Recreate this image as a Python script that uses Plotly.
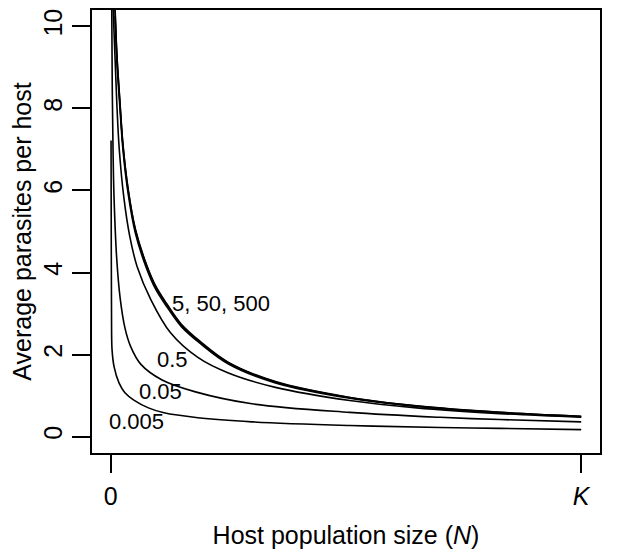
import plotly.graph_objects as go

# Host population size as fraction of K, and average parasites per host
n_500 = [0.009, 0.013, 0.019, 0.026, 0.037, 0.052, 0.075, 0.095, 0.120, 0.150, 0.190, 0.250, 0.350, 0.508, 0.650, 0.827, 1.000]
y_500 = [10.45, 9.3, 8.23, 7.1, 6.02, 5.07, 4.22, 3.68, 3.22, 2.74, 2.32, 1.81, 1.34, 0.955, 0.75, 0.593, 0.493]
n_50 = [0.009, 0.013, 0.019, 0.026, 0.037, 0.052, 0.075, 0.095, 0.120, 0.150, 0.190, 0.250, 0.350, 0.508, 0.650, 0.827, 1.000]
y_50 = [10.4, 9.26, 8.2, 7.08, 6.0, 5.05, 4.2, 3.66, 3.2, 2.72, 2.30, 1.80, 1.33, 0.95, 0.747, 0.59, 0.49]
n_5 = [0.009, 0.013, 0.019, 0.026, 0.037, 0.052, 0.075, 0.095, 0.120, 0.150, 0.190, 0.250, 0.350, 0.508, 0.650, 0.827, 1.000]
y_5 = [10.25, 9.12, 8.08, 6.97, 5.91, 4.97, 4.13, 3.60, 3.15, 2.68, 2.27, 1.77, 1.31, 0.935, 0.735, 0.58, 0.482]
n_05 = [0.005, 0.0125, 0.018, 0.028, 0.040, 0.056, 0.085, 0.127, 0.185, 0.250, 0.350, 0.508, 0.650, 0.827, 1.000]
y_05 = [10.4, 8.2, 7.0, 5.8, 4.9, 4.14, 3.34, 2.53, 1.93, 1.55, 1.20, 0.88, 0.70, 0.56, 0.47]
n_005 = [0.002, 0.003, 0.0047, 0.0068, 0.0125, 0.0196, 0.030, 0.042, 0.064, 0.109, 0.180, 0.300, 0.508, 0.700, 0.827, 1.000]
y_005 = [10.4, 8.6, 7.0, 5.85, 4.35, 3.40, 2.65, 2.20, 1.76, 1.38, 1.09, 0.80, 0.59, 0.47, 0.415, 0.36]
n_0005 = [0.0005, 0.001, 0.0015, 0.0026, 0.007, 0.0174, 0.030, 0.049, 0.080, 0.113, 0.185, 0.300, 0.508, 0.700, 0.827, 1.000]
y_0005 = [7.22, 4.5, 3.0, 2.12, 1.70, 1.31, 1.07, 0.89, 0.70, 0.58, 0.46, 0.36, 0.27, 0.22, 0.20, 0.17]

label_text = ["5, 50, 500", "0.5", "0.05", "0.005"]
label_n = [0.234, 0.132, 0.105, 0.054]
label_y = [3.24, 1.89, 1.11, 0.38]

x_tickvals = [0, 1]
x_ticktext = ["0", "<i>K</i>"]
y_tickvals = [0, 2, 4, 6, 8, 10]

FONT = "Liberation Sans, Arial, sans-serif"

fig = go.Figure()
for xs, ys in [(n_500, y_500), (n_50, y_50), (n_5, y_5), (n_05, y_05), (n_005, y_005), (n_0005, y_0005)]:
    fig.add_trace(go.Scatter(x=xs, y=ys, mode="lines",
                             line=dict(color="black", width=1.6, shape="spline", smoothing=1.0),
                             showlegend=False, hoverinfo="skip", cliponaxis=True))

for t, xv, yv in zip(label_text, label_n, label_y):
    fig.add_annotation(x=xv, y=yv, text=t, showarrow=False, xanchor="center", yanchor="middle",
                       font=dict(family=FONT, size=22, color="black"))

# the page body has an 8px default margin, so the figure is sized/offset to compensate
fig.update_layout(
    width=609, height=541,
    margin=dict(l=84, r=17, t=2, b=96, autoexpand=False),
    plot_bgcolor="white", paper_bgcolor="white",
    font=dict(family=FONT, size=25, color="black"),
)
fig.update_xaxes(range=[-0.04, 1.04], tickvals=x_tickvals, ticktext=x_ticktext, automargin=False,
                 showgrid=False, zeroline=False, showline=True, mirror=True,
                 linecolor="black", linewidth=1.5, ticks="outside", ticklen=18,
                 tickwidth=1.5, tickcolor="black", ticklabelstandoff=2,
                 title=dict(text="Host population size (<i>N</i>)", standoff=28,
                            font=dict(size=25)))
fig.update_yaxes(range=[-0.4, 10.4], tickvals=y_tickvals, automargin=False,
                 showgrid=False, zeroline=False, showline=True, mirror=True,
                 linecolor="black", linewidth=1.5, ticks="outside", ticklen=18,
                 tickwidth=1.5, tickcolor="black", tickangle=-90, ticklabelstandoff=0,
                 title=dict(text="Average parasites per host", standoff=3,
                            font=dict(size=25)))

fig.write_html("out.html")
